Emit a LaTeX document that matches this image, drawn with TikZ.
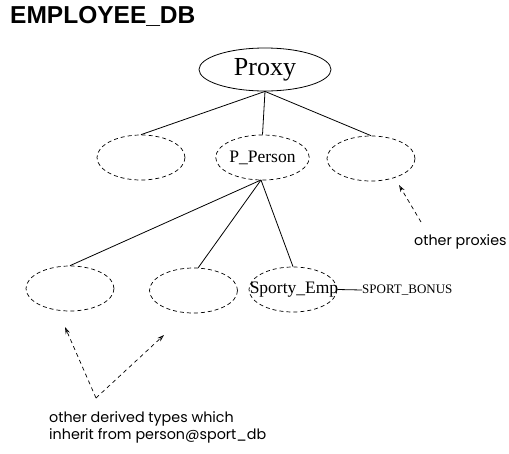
\documentclass[tikz,border=0pt]{standalone}
\usepackage{fontspec}
\setmainfont{Liberation Serif}
\newfontfamily\titlefont{Liberation Sans}
\newfontfamily\notefont{Poppins}
\usetikzlibrary{shapes.geometric,arrows.meta}
\begin{document}
\begin{tikzpicture}[x=1pt,y=-1pt,
  solidell/.style={draw,ellipse,line width=0.8pt,minimum width=132pt,minimum height=43pt,inner sep=0pt},
  dashell/.style={draw,ellipse,dash pattern=on 4pt off 3pt,line width=0.7pt,minimum width=88pt,minimum height=45pt,inner sep=0pt},
  link/.style={line width=0.8pt},
  notearrow/.style={dash pattern=on 4pt off 3.5pt,line width=0.7pt,-{Stealth[open,length=7pt,width=4.5pt]}},
  notetext/.style={font=\notefont\fontsize{14.3}{17}\selectfont,align=left,inner sep=0pt}]
\useasboundingbox (0,0) rectangle (509,453);
\node[anchor=west,inner sep=0pt,font=\titlefont\bfseries\fontsize{24.5}{28}\selectfont] (title) at (10,16) {EMPLOYEE\_DB};
\node[solidell,font=\fontsize{26}{30}\selectfont] (proxy) at (265,69.5) {Proxy};
\node[dashell] (l1) at (141,157.5) {};
\node[dashell,font=\fontsize{17.5}{20}\selectfont] (pp) at (262.5,157.5) {P\_Person};
\node[dashell] (r1) at (371,158.5) {};
\node[dashell] (a) at (70,288.5) {};
\node[dashell] (b) at (193.5,290.5) {};
\node[dashell] (se) at (293,289.5) {};
\node[inner sep=0pt,font=\fontsize{17.5}{20}\selectfont] (setext) at (294,289.5) {Sporty\_Emp};
\node[anchor=west,inner sep=0pt,font=\fontsize{13}{15}\selectfont] (sb) at (362,290) {SPORT\_BONUS};
\draw[link] (proxy.south) -- (l1.north);
\draw[link] (proxy.south) -- (pp.north);
\draw[link] (proxy.south) -- (r1.north);
\coordinate (ppb) at (261,180);
\draw[link] (ppb) -- (a.north);
\draw[link] (ppb) -- (198,268);
\draw[link] (ppb) -- (se.north);
\draw[link] (se.east) -- (sb.west);
\node[notetext,anchor=west] (op) at (414,242) {other proxies};
\coordinate (opt) at (421,222);
\coordinate (oph) at (399,185);
\draw[notearrow] (opt) -- (oph);
\node[notetext,anchor=north west] (odt) at (49,411) {other derived types which\\inherit from person@sport\_db};
\coordinate (v) at (96,398);
\coordinate (h1) at (65,327);
\coordinate (h2) at (164,335);
\draw[notearrow] (v) -- (h1);
\draw[notearrow] (v) -- (h2);
\end{tikzpicture}
\end{document}
